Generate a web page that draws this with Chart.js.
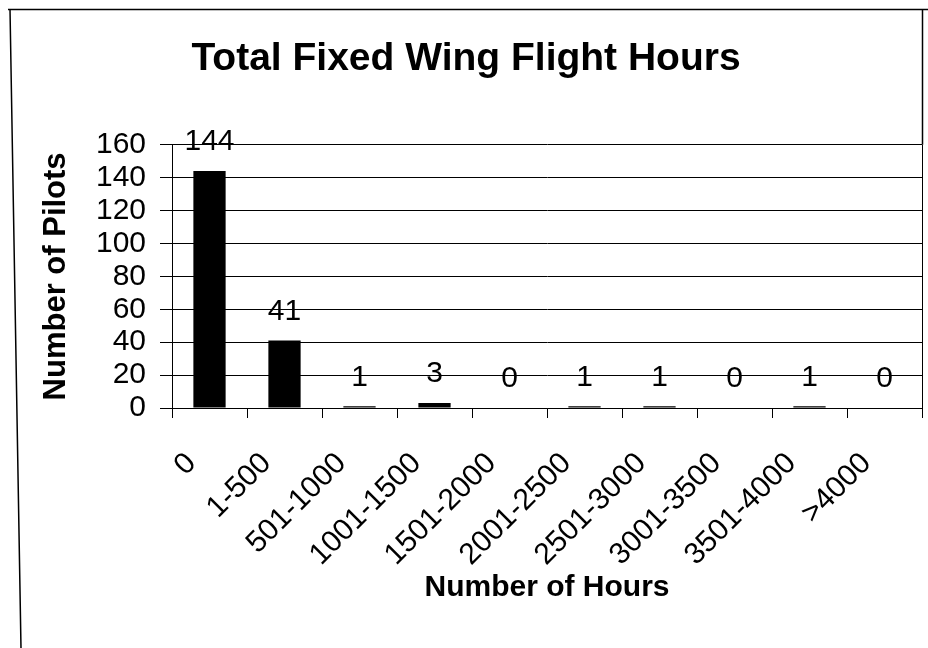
<!DOCTYPE html>
<html>
<head>
<meta charset="utf-8">
<script src="https://cdn.jsdelivr.net/npm/chart.js@4/dist/chart.umd.min.js"></script>
<style>
  body { margin: 0; background: #fff; }
  #wrap { width: 928px; height: 648px; }
</style>
</head>
<body>
<div id="wrap"><canvas id="myChart"></canvas></div>
<script>
const categories = ['0', '1-500', '501-1000', '1001-1500', '1501-2000', '2001-2500', '2501-3000', '3001-3500', '3501-4000', '>4000'];
const pilots = [144, 41, 1, 3, 0, 1, 1, 0, 1, 0];
const yMin = 0;
const yMax = 160;
const yStep = 20;

const FONT = '"Liberation Sans", Arial, sans-serif';

// frame round the chart (scanned page border)
const frame = {
  id: 'frame',
  beforeDraw(chart) {
    const ctx = chart.ctx;
    const a = chart.chartArea;
    ctx.save();
    ctx.strokeStyle = '#000';
    ctx.lineWidth = 1.5;
    ctx.beginPath();
    ctx.moveTo(8, 9.5); ctx.lineTo(928, 9.5);
    ctx.moveTo(10, 9); ctx.lineTo(21, 648);
    ctx.moveTo(Math.round(a.right) + 0.5, 9); ctx.lineTo(Math.round(a.right) + 0.5, a.top);
    ctx.stroke();
    ctx.restore();
  },
  afterDraw(chart) {
    const ctx = chart.ctx;
    const a = chart.chartArea;
    ctx.save();
    ctx.strokeStyle = '#000';
    ctx.lineWidth = 1;
    ctx.beginPath();
    ctx.moveTo(Math.round(a.right) + 0.5, a.top);
    ctx.lineTo(Math.round(a.right) + 0.5, a.bottom + 10);
    ctx.stroke();
    ctx.restore();
  }
};

// value labels above the bars
const valueLabels = {
  id: 'valueLabels',
  afterDatasetsDraw(chart) {
    const ctx = chart.ctx;
    const meta = chart.getDatasetMeta(0);
    ctx.save();
    ctx.font = '30px ' + FONT;
    ctx.fillStyle = '#000';
    ctx.textAlign = 'center';
    ctx.textBaseline = 'middle';
    meta.data.forEach((bar, i) => {
      ctx.fillText(String(pilots[i]), bar.x, bar.y - 29);
    });
    ctx.restore();
  }
};

let ctx = document.getElementById('myChart').getContext('2d');
let chart = new Chart(ctx, {
  type: 'bar',
  data: {
    labels: categories,
    datasets: [{
      label: 'Number of Pilots',
      backgroundColor: '#000',
      borderColor: '#000',
      borderWidth: 0,
      barPercentage: 0.43,
      categoryPercentage: 1.0,
      data: pilots,
    }]
  },
  options: {
    responsive: true,
    maintainAspectRatio: false,
    animation: false,
    layout: { padding: { left: 10, right: 6, top: 10, bottom: 38 } },
    plugins: {
      legend: { display: false },
      tooltip: { enabled: false },
      title: {
        display: true,
        text: 'Total Fixed Wing Flight Hours',
        color: '#000',
        font: { family: FONT, size: 39, weight: 'bold' },
        padding: { top: 26, bottom: 62 }
      }
    },
    scales: {
      x: {
        grid: { drawOnChartArea: false, drawTicks: true, tickLength: 10, color: '#000', offset: true },
        border: { display: true, color: '#000' },
        ticks: {
          color: '#000',
          font: { family: FONT, size: 30 },
          minRotation: 45,
          maxRotation: 45,
          autoSkip: false,
          padding: 28,
          labelOffset: -18
        },
        title: {
          display: true,
          text: 'Number of Hours',
          color: '#000',
          font: { family: FONT, size: 30, weight: 'bold' },
          padding: { top: 4, bottom: 4 }
        },
        afterFit(scale) {
          scale.height = 202;
          scale.paddingLeft = 0;
          scale.paddingRight = 0;
        }
      },
      y: {
        min: yMin,
        max: yMax,
        grid: { color: '#000', tickLength: 12, drawTicks: true },
        border: { display: true, color: '#000' },
        ticks: {
          stepSize: yStep,
          autoSkip: false,
          color: '#000',
          font: { family: FONT, size: 30 },
          padding: 14
        },
        title: {
          display: true,
          text: 'Number of Pilots',
          color: '#000',
          font: { family: FONT, size: 31, weight: 'bold' },
          padding: { top: 28, bottom: 4 }
        },
        afterFit(scale) { scale.width = 162; }
      }
    }
  },
  plugins: [frame, valueLabels]
});
</script>
</body>
</html>
